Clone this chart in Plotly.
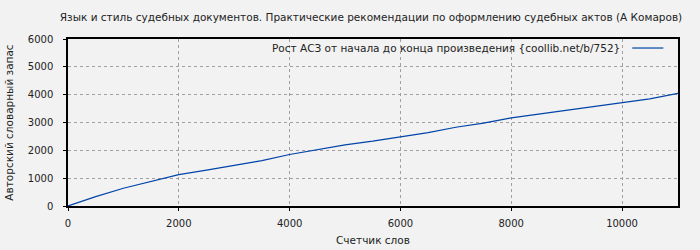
import plotly.graph_objects as go

title_text = "Язык и стиль судебных документов. Практические рекомендации по оформлению судебных актов (А Комаров)"
legend_text = "Рост АСЗ от начала до конца произведения {coollib.net/b/752}"
x_title = "Счетчик слов"
y_title = "Авторский словарный запас"

words = [0, 500, 1000, 1500, 2000, 2500, 3000, 3500, 4000, 4500, 5000, 5500,
         6000, 6500, 7000, 7500, 8000, 8500, 9000, 9500, 10000, 10500, 11010]
vocab = [0, 336, 637, 875, 1125, 1290, 1450, 1630, 1850, 2016, 2196, 2328,
         2484, 2639, 2830, 2980, 3168, 3300, 3456, 3576, 3697, 3852, 4045]

x_ticks = [0, 2000, 4000, 6000, 8000, 10000]
y_ticks = [0, 1000, 2000, 3000, 4000, 5000, 6000]

LINE = "#0044aa"
BG = "#f2f2f2"
FONT = "DejaVu Sans"

fig = go.Figure()
fig.add_trace(go.Scatter(x=words, y=vocab, mode="lines",
                         line=dict(color=LINE, width=1.2),
                         showlegend=False, hoverinfo="skip"))

axis_common = dict(showline=True, linecolor="black", linewidth=1.5, mirror=True,
                   ticks="outside", ticklen=3, tickcolor="black", automargin=False,
                   showgrid=True, gridcolor="#a0a0a0", griddash="dot", gridwidth=1,
                   zeroline=False, tickfont=dict(family=FONT, size=10, color="#222"))

fig.update_layout(
    width=700, height=250,
    margin=dict(l=68, r=22, t=39, b=44),
    paper_bgcolor=BG, plot_bgcolor=BG,
    font=dict(family=FONT, size=10.5, color="#222"),
    title=dict(text=title_text, x=0.53, xanchor="center", y=0.93, yanchor="middle",
               font=dict(family=FONT, size=10.5, color="#222")),
    xaxis=dict(range=[0, 11010], tickvals=x_ticks, ticktext=[str(v) for v in x_ticks],
               ticklabelstandoff=4,
               title=dict(text=x_title, font=dict(family=FONT, size=10.5), standoff=9),
               **axis_common),
    yaxis=dict(range=[0, 6000], tickvals=y_ticks, ticktext=[str(v) for v in y_ticks],
               ticklabelstandoff=8,
               title=dict(text=y_title, font=dict(family=FONT, size=10.5), standoff=12),
               **axis_common),
)

fig.add_annotation(text=legend_text, xref="paper", yref="paper", x=0.909, y=0.946,
                   xanchor="right", yanchor="middle", showarrow=False,
                   font=dict(family=FONT, size=10.5, color="#222"))
fig.add_shape(type="line", xref="paper", yref="paper", x0=0.925, x1=0.976, y0=0.946, y1=0.946,
              line=dict(color=LINE, width=1.2))

fig.write_html("out.html")
